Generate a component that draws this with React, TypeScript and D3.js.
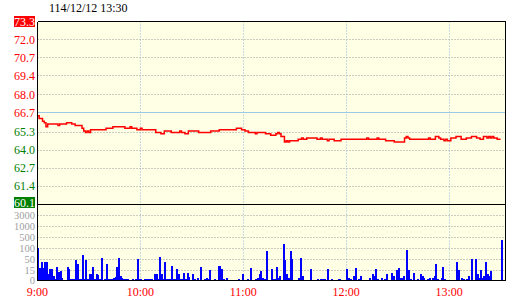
import React from "react";
import * as d3 from "d3";

const title = "114/12/12 13:30";
const prevClose = 66.7;
const priceTicks = [73.3, 72.0, 70.7, 69.4, 68.0, 66.7, 65.3, 64.0, 62.7, 61.4, 60.1];
const volTicks = [0, 15, 50, 100, 500, 1000, 3000, 5000];
const volLabels = ["0", "15", "50", "100", "500", "1000", "3000"];
const hourLabels = ["9:00", "10:00", "11:00", "12:00", "13:00"];
const hourMinutes = [0, 60, 120, 180, 240];

const priceMinutes = [0, 1, 3, 4, 5, 6, 12, 13, 17, 20, 22, 26, 27, 28, 29, 30, 31, 40, 44, 51, 54, 55, 58, 60, 61, 69, 72, 74, 78, 83, 84, 86, 88, 94, 101, 106, 116, 119, 121, 123, 127, 128, 133, 136, 139, 140, 141, 142, 144, 145, 146, 147, 152, 154, 155, 157, 163, 165, 166, 169, 170, 173, 177, 192, 193, 198, 199, 203, 208, 214, 215, 216, 217, 228, 229, 232, 234, 235, 237, 238, 239, 241, 244, 247, 250, 253, 256, 258, 260, 262, 263, 264, 265, 266, 268, 270];
const priceValues = [66.5, 66.3, 66.1, 66.0, 65.7, 65.9, 65.8, 65.9, 66.0, 65.9, 65.8, 65.6, 65.4, 65.3, 65.4, 65.3, 65.5, 65.6, 65.7, 65.6, 65.7, 65.6, 65.5, 65.6, 65.5, 65.3, 65.2, 65.4, 65.3, 65.4, 65.3, 65.2, 65.4, 65.3, 65.4, 65.5, 65.6, 65.5, 65.4, 65.3, 65.2, 65.3, 65.2, 65.1, 65.2, 65.3, 65.2, 65.0, 64.6, 64.7, 64.6, 64.7, 64.8, 64.9, 64.8, 64.9, 64.8, 64.9, 64.8, 64.7, 64.8, 64.7, 64.8, 64.9, 64.8, 64.9, 64.8, 64.7, 64.6, 64.9, 65.0, 64.9, 64.8, 64.9, 64.8, 65.0, 64.9, 64.8, 64.7, 64.8, 64.7, 64.9, 65.0, 64.8, 64.9, 65.0, 64.9, 64.8, 65.0, 64.9, 65.0, 64.9, 65.0, 64.9, 64.8, 64.8];

const volumes = [
  105, 23, 42, 23, 42, 42, 10, 21, 21, 7,
  3, 27, 13, 14, 5, 2, 0, 27, 19, 4,
  4, 4, 48, 37, 3, 3, 70, 3, 48, 3,
  10, 10, 27, 3, 10, 9, 3, 55, 0, 3,
  37, 3, 3, 3, 5, 6, 27, 55, 8, 5,
  4, 3, 3, 2, 2, 3, 0, 3, 53, 3,
  3, 0, 3, 3, 3, 3, 3, 2, 10, 10,
  3, 60, 10, 3, 42, 3, 3, 3, 30, 3,
  3, 20, 10, 3, 3, 12, 3, 12, 6, 0,
  10, 3, 2, 5, 0, 25, 0, 3, 5, 3,
  16, 0, 0, 3, 0, 28, 28, 19, 3, 0,
  5, 0, 0, 0, 0, 2, 0, 3, 0, 10,
  0, 0, 3, 2, 22, 2, 0, 3, 5, 10,
  15, 5, 3, 88, 0, 0, 19, 3, 3, 25,
  5, 7, 0, 262, 48, 10, 5, 88, 51, 0,
  2, 2, 5, 57, 8, 2, 0, 0, 0, 19,
  2, 0, 0, 3, 0, 3, 3, 3, 0, 19,
  0, 3, 2, 2, 0, 3, 3, 0, 0, 0,
  21, 5, 3, 0, 8, 22, 0, 3, 7, 0,
  2, 0, 2, 5, 0, 10, 8, 19, 3, 0,
  5, 0, 3, 10, 2, 0, 11, 8, 0, 16,
  22, 5, 5, 8, 2, 92, 16, 3, 0, 12,
  0, 3, 0, 10, 7, 5, 0, 3, 5, 0,
  5, 8, 37, 3, 0, 5, 25, 3, 0, 0,
  0, 2, 0, 0, 41, 16, 0, 5, 4, 0,
  3, 8, 0, 51, 2, 51, 10, 5, 16, 5,
  8, 41, 10, 8, 14, 2, 0, 0, 0, 0,
  412,
];

const W = 520;
const H = 300;
const L = 37.5;
const R = 505.5;
const T = 21.5;
const MID = 204.5;
const B = 280.5;
const FONT = "'Liberation Serif', 'Times New Roman', serif";

export default function App() {
  const x = d3.scaleLinear().domain([0, 270]).range([37.4, 500.6]);
  const y = d3.scaleLinear().domain([60.1, 73.3]).range([MID, T]);
  const yv = d3
    .scaleLinear()
    .domain(volTicks)
    .range(volTicks.map((_, i) => 281.5 - 11 * i));

  const pts: [number, number][] = priceMinutes.map((m, i) => [x(m), y(priceValues[i])]);
  const line = d3.line().curve(d3.curveStepAfter)(pts) || "";

  const crisp = (v: number) => Math.round(v - 0.5) + 0.5;

  return (
    <svg
      width={W}
      height={H}
      style={{ position: "absolute", left: 0, top: 0, background: "#fff" }}
      fontFamily={FONT}
      fontSize={12}
    >
      <defs>
        <clipPath id="vclip">
          <rect x={L} y={MID} width={R - L} height={B - MID} />
        </clipPath>
      </defs>
      <rect x={L} y={T} width={R - L} height={B - T} fill="#ffffe6" />

      {/* price grid */}
      {priceTicks.slice(1, -1).map((t) =>
        t === prevClose ? null : (
          <line key={"pg" + t} x1={L} x2={R} y1={crisp(y(t))} y2={crisp(y(t))} stroke="#999" strokeDasharray="1,2" />
        )
      )}
      {/* volume grid */}
      {volTicks.slice(1, -1).map((t) => (
        <line key={"vg" + t} x1={L} x2={R} y1={crisp(yv(t))} y2={crisp(yv(t))} stroke="#999" strokeDasharray="1,2" />
      ))}
      {/* hour lines */}
      {hourMinutes.slice(1).map((m) => (
        <line key={"h" + m} x1={crisp(x(m))} x2={crisp(x(m))} y1={T} y2={B} stroke="#8fb8dc" strokeDasharray="1,2" />
      ))}
      {/* previous close */}
      <line x1={L} x2={R} y1={crisp(y(prevClose))} y2={crisp(y(prevClose))} stroke="#9cc8e8" strokeWidth={1} />

      {/* volume bars */}
      <g clipPath="url(#vclip)" shapeRendering="crispEdges">
        {volumes.map((v, i) =>
          v > 0 ? (
            <rect key={"v" + i} x={Math.round(x(i))} y={yv(v)} width={1.5} height={yv(0) - yv(v)} fill="#0000ff" />
          ) : null
        )}
      </g>

      {/* price line */}
      <path d={line} fill="none" stroke="#ff0000" strokeWidth={1.5} />

      {/* borders */}
      <g stroke="#000" strokeWidth={1.2} shapeRendering="crispEdges">
        <line x1={L} x2={R} y1={T} y2={T} />
        <line x1={L} x2={R} y1={MID} y2={MID} strokeWidth={1.5} />
        <line x1={L} x2={R} y1={B} y2={B} />
        <line x1={L} x2={L} y1={T} y2={B} />
        <line x1={R} x2={R} y1={T} y2={B} />
      </g>

      {/* title */}
      <text x={49} y={12} fill="#000">{title}</text>

      {/* price labels */}
      {priceTicks.map((t, i) => {
        const yy = y(t);
        const first = i === 0;
        const last = i === priceTicks.length - 1;
        const color = first || last ? "#fff" : t >= prevClose ? "#ff0000" : "#008000";
        return (
          <g key={"pl" + t}>
            {first && <rect x={14} y={16} width={21} height={11} fill="#ff0000" />}
            {last && <rect x={14} y={197} width={21} height={11} fill="#008000" />}
            <text x={35} y={first ? 25.5 : last ? 206.5 : yy + 4} textAnchor="end" fill={color}>
              {t.toFixed(1)}
            </text>
          </g>
        );
      })}

      {/* volume labels */}
      {volLabels.map((lab, i) => (
        <text
          key={"vl" + lab}
          x={35}
          y={yv(volTicks[i]) + (i === 0 ? 2 : 3.5)}
          textAnchor="end"
          fill="#a0a0a0"
          fontSize={10.5}
        >
          {lab}
        </text>
      ))}

      {/* time labels */}
      {hourLabels.map((lab, i) => (
        <text key={"tl" + lab} x={x(hourMinutes[i])} y={296} textAnchor="middle" fill="#ff0000">
          {lab}
        </text>
      ))}
    </svg>
  );
}
